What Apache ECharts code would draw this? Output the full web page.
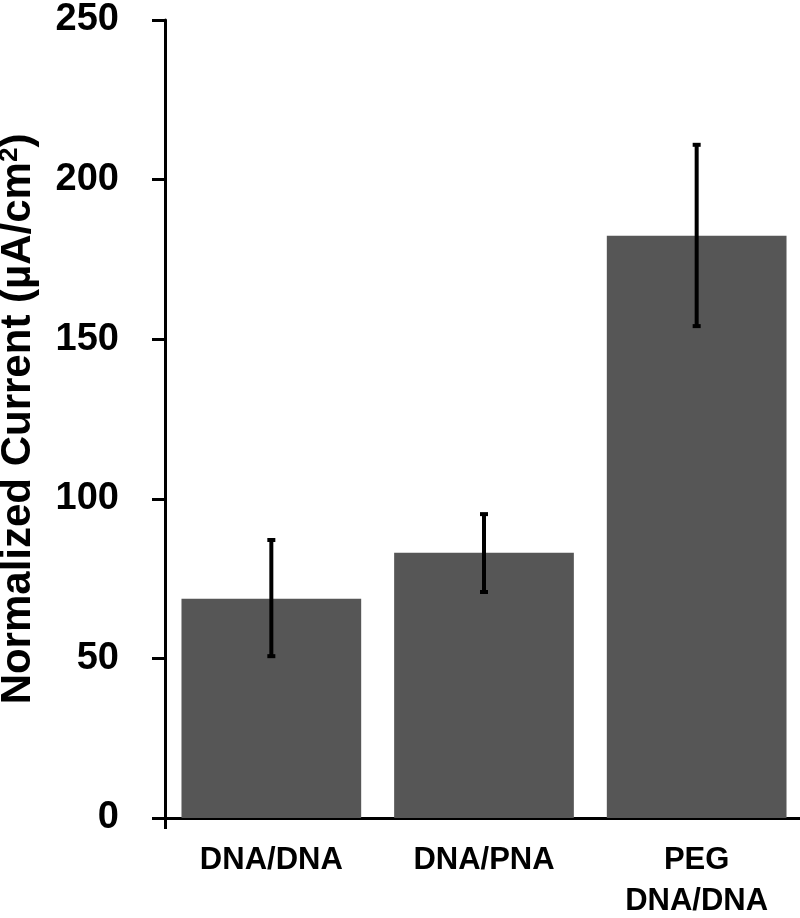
<!DOCTYPE html>
<html>
<head>
<meta charset="utf-8">
<script src="https://cdn.jsdelivr.net/npm/echarts@6/dist/echarts.min.js"></script>
<style>
html,body{margin:0;padding:0;background:#fff;}
#chart{width:800px;height:918px;}
</style>
</head>
<body>
<div id="chart"></div>
<script>
const categories = ['DNA/DNA', 'DNA/PNA', 'PEG\nDNA/DNA'];
const values = [68.7, 83.1, 182.4];
const errLow = [50.7, 70.8, 154.1];
const errHigh = [87.1, 95.2, 210.9];
const yTicks = [0, 50, 100, 150, 200, 250];

const FONT = '"Liberation Sans", Arial, Helvetica, sans-serif';
const chart = echarts.init(document.getElementById('chart'), null, {renderer: 'canvas'});

const errData = categories.map((c, i) => [i, errLow[i], errHigh[i]]);

chart.setOption({
  animation: false,
  backgroundColor: '#ffffff',
  grid: {left: 165, right: -3, top: 20, bottom: 100, containLabel: false, outerBoundsMode: 'none'},
  xAxis: {
    type: 'category',
    data: categories,
    boundaryGap: true,
    axisLine: {show: true, lineStyle: {color: '#000', width: 3}},
    axisTick: {show: true, length: 11, lineStyle: {color: '#000', width: 3},
      interval: function (index) { return index === 0; }},
    axisLabel: {color: '#000', fontFamily: FONT, fontWeight: 'bold', fontSize: 31,
      lineHeight: 41, margin: 22, interval: 0}
  },
  yAxis: {
    type: 'value',
    min: yTicks[0],
    max: yTicks[yTicks.length - 1],
    interval: 50,
    name: 'Normalized Current (µA/cm{sup|2})',
    nameLocation: 'middle',
    nameGap: 126,
    nameRotate: 90,
    nameTextStyle: {color: '#000', fontFamily: FONT, fontWeight: 'bold', fontSize: 42,
      rich: {sup: {fontFamily: FONT, fontWeight: 'bold', fontSize: 26, verticalAlign: 'top', padding: [0, 0, 14, 0], color: '#000'}}},
    axisLine: {show: true, lineStyle: {color: '#000', width: 3}},
    axisTick: {show: true, inside: false, length: 13, lineStyle: {color: '#000', width: 3}},
    axisLabel: {color: '#000', fontFamily: FONT, fontWeight: 'bold', fontSize: 38, margin: 46},
    splitLine: {show: false}
  },
  series: [
    {
      type: 'bar',
      data: values,
      barCategoryGap: '15.5%',
      itemStyle: {color: '#565656'},
      z: 2
    },
    {
      type: 'custom',
      data: errData,
      z: 5,
      renderItem: function (params, api) {
        const x = api.value(0);
        const lo = api.coord([x, api.value(1)]);
        const hi = api.coord([x, api.value(2)]);
        const cap = 4;
        const st = {stroke: '#000', lineWidth: 4};
        return {
          type: 'group',
          children: [
            {type: 'line', shape: {x1: lo[0], y1: lo[1], x2: hi[0], y2: hi[1]}, style: st},
            {type: 'line', shape: {x1: hi[0] - cap, y1: hi[1], x2: hi[0] + cap, y2: hi[1]}, style: st},
            {type: 'line', shape: {x1: lo[0] - cap, y1: lo[1], x2: lo[0] + cap, y2: lo[1]}, style: st}
          ]
        };
      }
    }
  ]
});
</script>
</body>
</html>
